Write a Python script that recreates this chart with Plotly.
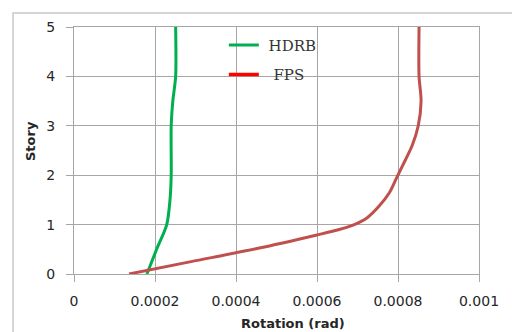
import plotly.graph_objects as go

# Data
hdrb_story = [0, 0.5, 1, 1.5, 2, 3, 3.5, 4, 5]
hdrb_rot = [0.00018, 0.000204, 0.000229, 0.000237, 0.00024, 0.00024, 0.000244, 0.000251, 0.000251]

fps_story = [0, 0.25, 0.51, 0.79, 0.9, 1.0, 1.14, 1.38, 1.65, 1.92, 2.19, 2.6, 3, 3.5, 4, 5]
fps_rot = [0.000136, 0.000289, 0.000449, 0.0006, 0.000655, 0.000692, 0.000724, 0.000754,
           0.000779, 0.000795, 0.000811, 0.000835, 0.00085, 0.000857, 0.000852, 0.000852]

x_ticks = [0, 0.0002, 0.0004, 0.0006, 0.0008, 0.001]
x_tick_labels = ["0", "0.0002", "0.0004", "0.0006", "0.0008", "0.001"]
y_ticks = [0, 1, 2, 3, 4, 5]

GREEN = "#00b050"
RED_CURVE = "#c0504d"
RED_LEGEND = "#ff0000"
GRID = "#a6a6a6"

fig = go.Figure()
fig.add_trace(go.Scatter(x=hdrb_rot, y=hdrb_story, mode="lines", name="\u00a0HDRB",
                         line=dict(color=GREEN, width=3, shape="spline", smoothing=0.8),
                         legendgroup="a"))
fig.add_trace(go.Scatter(x=fps_rot, y=fps_story, mode="lines", name="FPS",
                         line=dict(color=RED_CURVE, width=3, shape="spline", smoothing=0.8),
                         showlegend=False))
fig.add_trace(go.Scatter(x=[None], y=[None], mode="lines", name="\u00a0\u00a0FPS",
                         line=dict(color=RED_LEGEND, width=3.5), legendgroup="b"))

tick_font = dict(family="DejaVu Sans", size=14, color="#262626")

fig.update_layout(
    width=512, height=332,
    margin=dict(l=74, r=33, t=27, b=58),
    paper_bgcolor="white", plot_bgcolor="white",
    showlegend=True,
    legend=dict(x=0.37, y=0.993, xanchor="left", yanchor="top",
                bgcolor="rgba(0,0,0,0)", borderwidth=0,
                font=dict(family="DejaVu Serif", size=15, color="#333333"),
                traceorder="grouped", tracegroupgap=7),
    xaxis=dict(range=[0, 0.001], tickvals=x_ticks, ticktext=x_tick_labels,
               showgrid=True, gridcolor=GRID, gridwidth=1.3,
               showline=True, linecolor=GRID, linewidth=1.3, mirror=True,
               zeroline=False, ticks="outside", ticklen=7, tickcolor=GRID, tickwidth=1.3,
               tickfont=tick_font, ticklabelstandoff=7),
    yaxis=dict(range=[0, 5], tickvals=y_ticks,
               showgrid=True, gridcolor=GRID, gridwidth=1.3,
               showline=True, linecolor=GRID, linewidth=1.3, mirror=True,
               zeroline=False, ticks="outside", ticklen=7, tickcolor=GRID, tickwidth=1.3,
               tickfont=tick_font, ticklabelstandoff=8),
    shapes=[
        # white legend box covering gridlines
        dict(type="rect", xref="paper", yref="paper", x0=0.380, x1=0.635, y0=0.741, y1=0.992,
             fillcolor="white", line=dict(width=0), layer="between"),
        # outer chart border
        dict(type="rect", xref="paper", yref="paper", x0=-0.1506, x1=1.1, y0=-0.26, y1=1.0567,
             fillcolor="rgba(0,0,0,0)", line=dict(color="#c8c8c8", width=1.5), layer="below"),
    ],
    annotations=[
        dict(text="<b>Rotation (rad)</b>", xref="paper", yref="paper",
             x=(293 - 74) / 405, y=(274 - 323) / 247, xanchor="center", yanchor="middle",
             showarrow=False, font=dict(family="DejaVu Sans", size=13, color="#262626")),
        dict(text="<b>Story</b>", xref="paper", yref="paper", textangle=-90,
             x=(30 - 74) / 405, y=(274 - 141) / 247, xanchor="center", yanchor="middle",
             showarrow=False, font=dict(family="DejaVu Sans", size=13, color="#262626")),
    ],
)

fig.write_html("out.html", config={"displayModeBar": False},
               post_script="document.body.style.margin='0';")
